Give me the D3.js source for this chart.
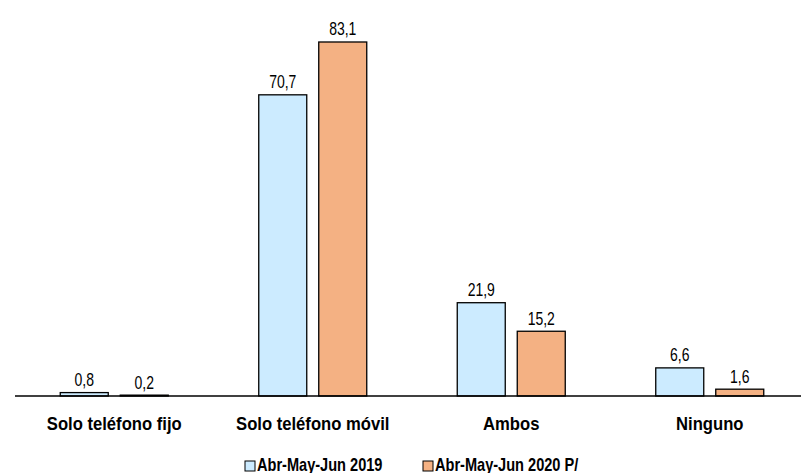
<!DOCTYPE html>
<html>
<head>
<meta charset="utf-8">
<script src="https://cdn.jsdelivr.net/npm/d3@7"></script>
<style>
  html, body { margin: 0; padding: 0; background: #fff; }
  svg { display: block; }
  text { font-family: "Liberation Sans", Arial, sans-serif; fill: #000; }
</style>
</head>
<body>
<svg id="chart" width="801" height="473"></svg>
<script>
const categories = ["Solo teléfono fijo", "Solo teléfono móvil", "Ambos", "Ninguno"];
const seriesNames = ["Abr-May-Jun 2019", "Abr-May-Jun 2020 P/"];
const values2019 = [0.8, 70.7, 21.9, 6.6];
const values2020 = [0.2, 83.1, 15.2, 1.6];
const seriesColors = ["#CCEBFF", "#F4B183"];
const unitLabel = "(Porcentaje)";

const seriesValues = [values2019, values2020];
const svg = d3.select("#chart");

const baseY = 396;
const x0 = d3.scaleBand().domain(categories).range([15, 809]).padding(0);
const x1 = d3.scaleBand().domain(seriesNames).range([0, 108]).paddingInner(0.2).paddingOuter(0);
const y = d3.scaleLinear().domain([0, 90]).range([baseY, baseY - 90 * 4.26]);

// helper: horizontally condensed text
function ntext(sel, x, yy, sx, size, weight, anchor, str) {
  return sel.append("text")
    .attr("transform", `translate(${x},${yy}) scale(${sx},1)`)
    .attr("text-anchor", anchor)
    .style("font-size", size + "px")
    .style("font-weight", weight)
    .text(str);
}

ntext(svg, 11, -4, 0.95, 16, "normal", "start", unitLabel);

const groups = svg.selectAll("g.cat").data(categories).join("g")
  .attr("class", "cat")
  .attr("transform", d => `translate(${x0(d) + x0.bandwidth() / 2 - 54},0)`);

groups.each(function(cat, ci) {
  const g = d3.select(this);
  seriesNames.forEach((s, si) => {
    const v = seriesValues[si][ci];
    g.append("rect")
      .attr("x", x1(s))
      .attr("y", y(v))
      .attr("width", x1.bandwidth())
      .attr("height", baseY - y(v))
      .attr("fill", seriesColors[si])
      .attr("stroke", "#000")
      .attr("stroke-width", 1.3);
    ntext(g, x1(s) + x1.bandwidth() / 2, y(v) - 6.5, 0.8, 17.5, "normal", "middle",
      d3.format(".1f")(v).replace(".", ","));
  });
});

// axis
const xAxis = d3.axisBottom(x0).tickSize(0).tickPadding(16);
const axG = svg.append("g").attr("transform", `translate(0,${baseY})`).call(xAxis);
axG.select(".domain").attr("stroke", "#000").attr("stroke-width", 1.3).attr("d", "M15,0H801");
axG.selectAll(".tick text")
  .attr("font-family", null).attr("font-size", null)
  .attr("y", null).attr("dy", null)
  .attr("transform", "translate(0,34) scale(0.9,1)")
  .style("font-size", "18.5px").style("font-weight", "bold");

// legend
const legendX = [245, 423];
seriesNames.forEach((s, i) => {
  svg.append("rect").attr("x", legendX[i]).attr("y", 461).attr("width", 10).attr("height", 10)
    .attr("fill", seriesColors[i]).attr("stroke", "#000").attr("stroke-width", 1);
  ntext(svg, legendX[i] + 12, 471, 0.81, 18, "bold", "start", s);
});
</script>
</body>
</html>
